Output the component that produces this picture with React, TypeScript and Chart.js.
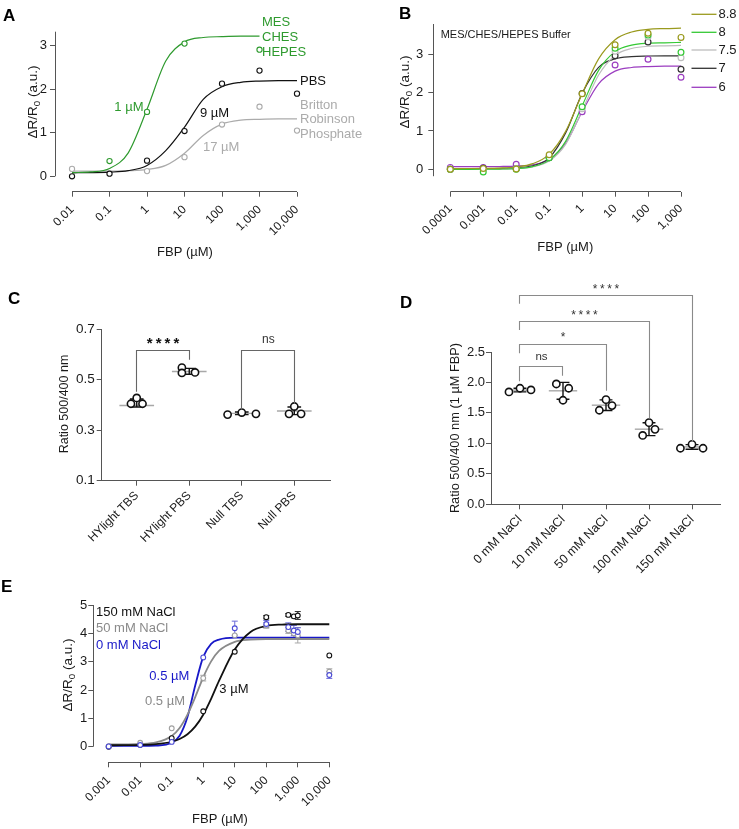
import React, { useEffect, useRef } from 'react';
import { Chart, registerables } from 'chart.js';

Chart.register(...registerables);

const W = 739;
const H = 829;
const FONT = "'Liberation Sans', Arial, Helvetica, sans-serif";
const AX = '#555555';
const INK = '#1a1a1a';

// ---------------- Panel A data ----------------
const A_X = [0.01, 0.1, 1, 10, 100, 1000, 10000];
const A_X_LABELS = ['0.01', '0.1', '1', '10', '100', '1,000', '10,000'];
const A_Y_TICKS = [0, 1, 2, 3];
const A_Y_LABELS = ['0', '1', '2', '3'];
const A_MES = [null, 0.35, 1.48, 3.05, null, 2.91, null];
const A_PBS = [0.0, 0.06, 0.36, 1.04, 2.13, 2.43, 1.9];
const A_BRP = [0.17, null, 0.12, 0.44, 1.19, 1.6, 1.05];
const A_FIT_X = [0.01, 0.0316, 0.1, 0.316, 1, 3.16, 10, 31.6, 100, 316, 1000, 3162, 10000];
const A_MES_FIT = [0.084, 0.1, 0.18, 0.54, 1.54, 2.65, 3.09, 3.19, 3.21, 3.22, 3.22, null, null];
const A_PBS_FIT = [0.081, 0.084, 0.095, 0.13, 0.25, 0.59, 1.13, 1.77, 2.06, 2.16, 2.19, 2.2, 2.2];
const A_BRP_FIT = [0.12, 0.12, 0.12, 0.128, 0.155, 0.25, 0.53, 0.94, 1.2, 1.29, 1.31, 1.32, 1.32];

// ---------------- Panel B data ----------------
const B_X = [0.0001, 0.001, 0.01, 0.1, 1, 10, 100, 1000];
const B_X_LABELS = ['0.0001', '0.001', '0.01', '0.1', '1', '10', '100', '1,000'];
const B_Y_TICKS = [0, 1, 2, 3];
const B_Y_LABELS = ['0', '1', '2', '3'];
const B_PH = ['8.8', '8', '7.5', '7', '6'];
const B_PH88 = [0, 0.02, 0.01, 0.38, 1.97, 3.25, 3.55, 3.44];
const B_PH8 = [0, -0.07, 0.0, 0.3, 1.63, 3.16, 3.5, 3.05];
const B_PH75 = [0, 0.0, 0.02, 0.32, 1.58, 3.08, 3.46, 2.91];
const B_PH7 = [0, 0.03, 0.02, 0.3, 1.98, 2.96, 3.32, 2.61];
const B_PH6 = [0.05, 0.05, 0.13, 0.33, 1.5, 2.72, 2.87, 2.4];
const B_FIT_X = [0.0001, 0.000316, 0.001, 0.00316, 0.01, 0.0316, 0.1, 0.316, 1, 3.16, 10, 31.6, 100, 316, 1000];
const B_FIT88 = [0.02, 0.021, 0.024, 0.033, 0.061, 0.147, 0.39, 0.99, 1.97, 2.88, 3.38, 3.58, 3.65, 3.67, 3.68];
const B_FIT8 = [0, 0, 0.002, 0.006, 0.021, 0.072, 0.24, 0.73, 1.655, 2.58, 3.07, 3.24, 3.29, 3.3, 3.31];
const B_FIT75 = [0, 0, 0.002, 0.005, 0.018, 0.064, 0.215, 0.65, 1.53, 2.46, 2.97, 3.15, 3.21, 3.22, 3.23];
const B_FIT7 = [0.02, 0.02, 0.021, 0.024, 0.036, 0.089, 0.3, 0.95, 1.98, 2.66, 2.88, 2.94, 2.955, 2.96, 2.96];
const B_FIT6 = [0.07, 0.07, 0.07, 0.073, 0.083, 0.119, 0.254, 0.675, 1.5, 2.23, 2.56, 2.655, 2.68, 2.69, 2.69];

// ---------------- Panel C data ----------------
const C_GROUPS = ['HYlight TBS', 'HYlight PBS', 'Null TBS', 'Null PBS'];
const C_Y_TICKS = [0.1, 0.3, 0.5, 0.7];
const C_Y_LABELS = ['0.1', '0.3', '0.5', '0.7'];
const C_VALUES = [
  [0.405, 0.428, 0.405],
  [0.548, 0.527, 0.529],
  [0.362, 0.37, 0.365],
  [0.365, 0.394, 0.365],
];
const C_JITTER = [
  [-0.11, 0, 0.11],
  [-0.14, -0.14, 0.11],
  [-0.27, 0, 0.27],
  [-0.1, 0, 0.13],
];
const C_MEAN = [0.398, 0.533, 0.367, 0.376];
const C_SD_HI = [0.424, 0.545, 0.372, 0.392];
const C_SD_LO = [0.392, 0.522, 0.362, 0.362];

// ---------------- Panel D data ----------------
const D_GROUPS = ['0 mM NaCl', '10 mM NaCl', '50 mM NaCl', '100 mM NaCl', '150 mM NaCl'];
const D_Y_TICKS = [0, 0.5, 1, 1.5, 2, 2.5];
const D_Y_LABELS = ['0.0', '0.5', '1.0', '1.5', '2.0', '2.5'];
const D_VALUES = [
  [1.844, 1.905, 1.877],
  [1.975, 1.905, 1.708],
  [1.718, 1.62, 1.544],
  [1.34, 1.23, 1.13],
  [0.92, 0.985, 0.92],
];
const D_JITTER = [
  [-0.256, 0, 0.256],
  [-0.155, 0.133, 0],
  [0, 0.14, -0.155],
  [0, 0.14, -0.147],
  [-0.27, 0, 0.256],
];
const D_MEAN = [1.875, 1.863, 1.627, 1.233, 0.942];
const D_SD = [0.03, 0.138, 0.087, 0.105, 0.038];
// significance brackets: group index compared with group 0
const D_SIG_TO = [4, 3, 2, 1];
const D_SIG_LABEL = ['****', '****', '*', 'ns'];
const D_SIG_TOP = [3.42, 3.0, 2.63, 2.26];
const D_SIG_LEFT = [3.29, 2.86, 2.48, 2.02];
const D_SIG_RIGHT = [1.03, 1.41, 1.865, 2.11];

// ---------------- Panel E data ----------------
const E_X = [0.001, 0.01, 0.1, 1, 10, 100, 500, 750, 1000, 10000];
const E_X_TICKS = [0.001, 0.01, 0.1, 1, 10, 100, 1000, 10000];
const E_X_LABELS = ['0.001', '0.01', '0.1', '1', '10', '100', '1,000', '10,000'];
const E_Y_TICKS = [0, 1, 2, 3, 4, 5];
const E_Y_LABELS = ['0', '1', '2', '3', '4', '5'];
const E_NACL150 = [0, 0.07, 0.3, 1.25, 3.35, 4.57, 4.65, 4.6, 4.63, 3.22];
const E_NACL50 = [0.02, 0.14, 0.65, 2.42, 3.93, 4.28, 4.1, 4.0, 3.93, 2.65];
const E_NACL0 = [0.01, 0.06, 0.17, 3.15, 4.18, 4.33, 4.22, 4.1, 4.05, 2.53];
const E_SD150 = [0, 0, 0, 0, 0, 0.06, 0.05, 0.05, 0.14, 0];
const E_SD50 = [0, 0, 0, 0.1, 0, 0.1, 0.1, 0.15, 0.27, 0.1];
const E_SD0 = [0, 0, 0, 0, 0.25, 0.12, 0.15, 0.18, 0.15, 0.12];
const E_FIT_X = [0.001, 0.00316, 0.01, 0.0316, 0.1, 0.178, 0.316, 0.562, 1, 1.78, 3.16, 10, 31.6, 100, 316, 1000, 3162, 10000];
const E_FIT150 = [0.051, 0.053, 0.062, 0.089, 0.175, 0.274, 0.442, 0.717, 1.13, 1.69, 2.32, 3.43, 4.05, 4.26, 4.31, 4.32, 4.32, 4.32];
const E_FIT50 = [0.08, 0.084, 0.096, 0.15, 0.38, 0.66, 1.13, 1.76, 2.45, 3.01, 3.38, 3.7, 3.78, 3.8, 3.8, 3.8, 3.8, 3.8];
const E_FIT0 = [0.03, 0.03, 0.03, 0.039, 0.138, 0.39, 1.05, 2.18, 3.17, 3.63, 3.78, 3.85, 3.85, 3.85, 3.85, 3.85, 3.85, 3.85];

// ---------------- colours ----------------
const A_GREEN = '#2e9a2e';
const A_BLACK = '#111111';
const A_GRAY = '#ababab';
const B_COLORS = ['#9a9a1e', '#35c935', '#bdbdbd', '#333333', '#9b3dc0'];
const E_BLACK = '#111111';
const E_GRAY = '#8a8a8a';
const E_BLUE = '#1818c8';

type Area = { l: number; t: number; r: number; b: number };

const pts = (xs: number[], ys: (number | null)[]) =>
  xs.map((x, i) => ({ x, y: ys[i] })).filter((p) => p.y !== null && p.y !== undefined);

function curveDs(xs: number[], ys: (number | null)[], color: string, width = 1.2) {
  return {
    data: pts(xs, ys),
    showLine: true,
    borderColor: color,
    borderWidth: width,
    pointRadius: 0,
    cubicInterpolationMode: 'monotone',
    fill: false,
    order: 2,
    clip: false,
  };
}

function pointDs(data: { x: number; y: number | null }[], color: string, r = 2.6, bw = 1.1) {
  return {
    data,
    showLine: false,
    borderColor: color,
    pointBorderColor: color,
    pointBackgroundColor: '#ffffff',
    pointRadius: r,
    pointBorderWidth: bw,
    order: 1,
    clip: false,
  };
}

function axisBox(area: Area) {
  return { yW: Math.min(45, area.l - 2), xH: Math.min(110, H - area.b - 1) };
}

function scale(
  id: 'x' | 'y',
  type: string,
  min: number,
  max: number,
  vals: number[],
  labels: string[],
  box: number,
  o: { size?: number; pad?: number; border?: boolean } = {}
) {
  const isX = id === 'x';
  return {
    type,
    min,
    max,
    bounds: 'data',
    position: isX ? 'bottom' : 'left',
    offset: false,
    afterFit: (s: any) => {
      if (isX) s.height = box;
      else s.width = box;
    },
    afterBuildTicks: (s: any) => {
      s.ticks = vals.map((v) => ({ value: v }));
    },
    ticks: {
      autoSkip: false,
      maxRotation: isX ? 45 : 0,
      minRotation: isX ? 45 : 0,
      padding: o.pad ?? 3,
      color: INK,
      font: { family: FONT, size: o.size ?? 12 },
      callback: (_v: any, i: number) => labels[i],
    },
    grid: { display: true, drawOnChartArea: false, drawTicks: true, tickLength: 5, color: AX, lineWidth: 1 },
    border: { display: !!o.border, color: AX, width: 1 },
    title: { display: false },
  };
}

function baseOptions(area: Area, x: any, y: any) {
  const { yW, xH } = axisBox(area);
  return {
    responsive: false,
    animation: false,
    events: [],
    layout: { padding: { left: area.l - yW, top: area.t, right: W - area.r, bottom: H - area.b - xH } },
    plugins: { legend: { display: false }, tooltip: { enabled: false }, title: { display: false } },
    scales: { x, y },
  };
}

const al = (v: number) => Math.round(v - 0.5) + 0.5;

function detachedAxes(chart: any, yFrom: number, xFrom: number, xTo: number) {
  const { ctx, chartArea: ca, scales } = chart;
  ctx.save();
  ctx.strokeStyle = AX;
  ctx.lineWidth = 1;
  ctx.beginPath();
  const lx = al(ca.left);
  ctx.moveTo(lx, scales.y.getPixelForValue(yFrom));
  ctx.lineTo(lx, ca.top);
  const by = al(ca.bottom);
  ctx.moveTo(scales.x.getPixelForValue(xFrom), by);
  ctx.lineTo(scales.x.getPixelForValue(xTo), by);
  ctx.stroke();
  ctx.restore();
}

function txt(
  ctx: CanvasRenderingContext2D,
  t: string,
  x: number,
  y: number,
  color = INK,
  size = 13,
  align: CanvasTextAlign = 'left',
  weight = 'normal'
) {
  ctx.save();
  ctx.font = `${weight} ${size}px ${FONT}`;
  ctx.fillStyle = color;
  ctx.textAlign = align;
  ctx.textBaseline = 'middle';
  ctx.fillText(t, x, y);
  ctx.restore();
}

function letter(ctx: CanvasRenderingContext2D, t: string, x: number, baseline: number) {
  ctx.save();
  ctx.font = `bold 17px ${FONT}`;
  ctx.fillStyle = '#000';
  ctx.textAlign = 'left';
  ctx.textBaseline = 'alphabetic';
  ctx.fillText(t, x, baseline);
  ctx.restore();
}

function vTitle(ctx: CanvasRenderingContext2D, cx: number, cy: number, parts: { t: string; sub?: boolean }[], size: number) {
  ctx.save();
  ctx.translate(cx, cy);
  ctx.rotate(-Math.PI / 2);
  ctx.fillStyle = INK;
  ctx.textBaseline = 'middle';
  ctx.textAlign = 'left';
  const fonts = parts.map((p) => `${p.sub ? size * 0.72 : size}px ${FONT}`);
  let total = 0;
  const widths = parts.map((p, i) => {
    ctx.font = fonts[i];
    const w = ctx.measureText(p.t).width;
    total += w;
    return w;
  });
  let x = -total / 2;
  parts.forEach((p, i) => {
    ctx.font = fonts[i];
    ctx.fillText(p.t, x, p.sub ? size * 0.3 : 0);
    x += widths[i];
  });
  ctx.restore();
}

const DR_TITLE = [{ t: 'ΔR/R' }, { t: '0', sub: true }, { t: ' (a.u.)' }];

function stars(ctx: CanvasRenderingContext2D, n: number, cx: number, cy: number, spacing: number, size: number, weight: string, color: string) {
  ctx.save();
  ctx.font = `${weight} ${size}px ${FONT}`;
  ctx.fillStyle = color;
  ctx.textAlign = 'center';
  ctx.textBaseline = 'alphabetic';
  for (let i = 0; i < n; i++) {
    const x = cx + (i - (n - 1) / 2) * spacing;
    ctx.fillText('*', x, cy + size * 0.55);
  }
  ctx.restore();
}

function bracket(chart: any, i0: number, i1: number, top: number, l0: number, l1: number, color: string) {
  const { ctx, scales } = chart;
  const X0 = al(scales.x.getPixelForValue(i0));
  const X1 = al(scales.x.getPixelForValue(i1));
  const T = al(scales.y.getPixelForValue(top));
  ctx.save();
  ctx.strokeStyle = color;
  ctx.lineWidth = 1.1;
  ctx.beginPath();
  ctx.moveTo(X0, scales.y.getPixelForValue(l0));
  ctx.lineTo(X0, T);
  ctx.lineTo(X1, T);
  ctx.lineTo(X1, scales.y.getPixelForValue(l1));
  ctx.stroke();
  ctx.restore();
}

function meanSd(chart: any, means: number[], hi: number[], lo: number[], halfMean: number, halfCap: number) {
  const { ctx, scales } = chart;
  const x = scales.x;
  const y = scales.y;
  ctx.save();
  means.forEach((m, i) => {
    ctx.strokeStyle = '#a8a8a8';
    ctx.lineWidth = 1.4;
    ctx.beginPath();
    ctx.moveTo(x.getPixelForValue(i - halfMean), y.getPixelForValue(m));
    ctx.lineTo(x.getPixelForValue(i + halfMean), y.getPixelForValue(m));
    ctx.stroke();
    ctx.strokeStyle = '#111';
    ctx.lineWidth = 1.4;
    const cx = x.getPixelForValue(i);
    const yh = y.getPixelForValue(hi[i]);
    const yl = y.getPixelForValue(lo[i]);
    ctx.beginPath();
    ctx.moveTo(cx, yh);
    ctx.lineTo(cx, yl);
    ctx.moveTo(x.getPixelForValue(i - halfCap), yh);
    ctx.lineTo(x.getPixelForValue(i + halfCap), yh);
    ctx.moveTo(x.getPixelForValue(i - halfCap), yl);
    ctx.lineTo(x.getPixelForValue(i + halfCap), yl);
    ctx.stroke();
  });
  ctx.restore();
}

// ---------------- builders ----------------
function buildA() {
  const area = { l: 55, t: 31.7, r: 297, b: 191.7 };
  const { yW, xH } = axisBox(area);
  return {
    type: 'scatter',
    data: {
      datasets: [
        curveDs(A_FIT_X, A_MES_FIT, A_GREEN),
        curveDs(A_FIT_X, A_PBS_FIT, A_BLACK),
        curveDs(A_FIT_X, A_BRP_FIT, A_GRAY),
        pointDs(pts(A_X, A_MES), A_GREEN),
        pointDs(pts(A_X, A_PBS), A_BLACK),
        pointDs(pts(A_X, A_BRP), A_GRAY),
      ],
    },
    options: baseOptions(
      area,
      scale('x', 'logarithmic', 0.003516, 10000, A_X, A_X_LABELS, xH, { size: 12, pad: 6 }),
      scale('y', 'linear', -0.354, 3.324, A_Y_TICKS, A_Y_LABELS, yW, { size: 13, pad: 3 })
    ),
    plugins: [
      {
        id: 'panelA',
        afterDraw(chart: any) {
          const ctx = chart.ctx;
          detachedAxes(chart, 0, A_X[0], A_X[A_X.length - 1]);
          txt(ctx, 'MES', 262, 22, A_GREEN);
          txt(ctx, 'CHES', 262, 37.5, A_GREEN);
          txt(ctx, 'HEPES', 262, 52.5, A_GREEN);
          txt(ctx, '1 µM', 143.5, 107, A_GREEN, 13, 'right');
          txt(ctx, 'PBS', 300, 81, '#111');
          txt(ctx, '9 µM', 200, 113, '#111');
          txt(ctx, 'Britton', 300, 105, A_GRAY);
          txt(ctx, 'Robinson', 300, 119.5, A_GRAY);
          txt(ctx, 'Phosphate', 300, 134.5, A_GRAY);
          txt(ctx, '17 µM', 203, 147, A_GRAY);
          txt(ctx, 'FBP (µM)', 185, 252, INK, 13, 'center');
          vTitle(ctx, 33, 102, DR_TITLE, 13.5);
          letter(ctx, 'A', 3, 21);
        },
      },
    ],
  };
}

function buildB() {
  const area = { l: 433.3, t: 24, r: 681, b: 191.7 };
  const { yW, xH } = axisBox(area);
  const series = [B_PH88, B_PH8, B_PH75, B_PH7, B_PH6];
  const fits = [B_FIT88, B_FIT8, B_FIT75, B_FIT7, B_FIT6];
  const ds: any[] = [];
  fits.forEach((f, i) => ds.push(curveDs(B_FIT_X, f, B_COLORS[i], 1.2)));
  series.forEach((s, i) => ds.push(pointDs(pts(B_X, s), B_COLORS[i], 2.9, 1.2)));
  return {
    type: 'scatter',
    data: { datasets: ds },
    options: baseOptions(
      area,
      scale('x', 'logarithmic', 3.05e-5, 1000, B_X, B_X_LABELS, xH, { size: 12, pad: 5 }),
      scale('y', 'linear', -0.584, 3.79, B_Y_TICKS, B_Y_LABELS, yW, { size: 13, pad: 5 })
    ),
    plugins: [
      {
        id: 'panelB',
        afterDraw(chart: any) {
          const ctx = chart.ctx;
          detachedAxes(chart, -0.18, B_X[0], B_X[B_X.length - 1]);
          txt(ctx, 'MES/CHES/HEPES Buffer', 440.7, 34.5, INK, 11);
          const rows = [14.3, 32.3, 50, 68.3, 87.3];
          B_PH.forEach((p, i) => {
            ctx.save();
            ctx.strokeStyle = B_COLORS[i];
            ctx.lineWidth = 1.3;
            ctx.beginPath();
            ctx.moveTo(691.5, rows[i]);
            ctx.lineTo(716.5, rows[i]);
            ctx.stroke();
            ctx.restore();
            txt(ctx, p, 718.5, rows[i], INK, 13);
          });
          txt(ctx, 'FBP (µM)', 565.3, 247, INK, 13, 'center');
          vTitle(ctx, 405, 92, DR_TITLE, 13.5);
          letter(ctx, 'B', 399, 19);
        },
      },
    ],
  };
}

function groupPoints(values: number[][], jitter: number[][]) {
  const out: { x: number; y: number }[] = [];
  values.forEach((g, i) => g.forEach((v, j) => out.push({ x: i + jitter[i][j], y: v })));
  return out;
}

function buildC() {
  const area = { l: 101.7, t: 329.3, r: 330, b: 480.7 };
  const { yW, xH } = axisBox(area);
  return {
    type: 'scatter',
    data: { datasets: [pointDs(groupPoints(C_VALUES, C_JITTER), '#111', 3.6, 1.6)] },
    options: baseOptions(
      area,
      scale('x', 'linear', -0.667, 3.68, [0, 1, 2, 3], C_GROUPS, xH, { size: 12, pad: 3, border: true }),
      scale('y', 'linear', 0.1, 0.7, C_Y_TICKS, C_Y_LABELS, yW, { size: 13.5, pad: 2, border: true })
    ),
    plugins: [
      {
        id: 'panelC',
        beforeDatasetsDraw(chart: any) {
          meanSd(chart, C_MEAN, C_SD_HI, C_SD_LO, 0.33, 0.13);
        },
        afterDraw(chart: any) {
          const ctx = chart.ctx;
          bracket(chart, 0, 1, 0.616, 0.453, 0.579, '#666');
          bracket(chart, 2, 3, 0.616, 0.381, 0.404, '#666');
          stars(ctx, 4, 163, 339.5, 8.9, 15, 'bold', '#111');
          txt(ctx, 'ns', 268.3, 339.5, '#333', 12, 'center');
          vTitle(ctx, 65, 404, [{ t: 'Ratio 500/400 nm' }], 12.5);
          letter(ctx, 'C', 8, 304);
        },
      },
    ],
  };
}

function buildD() {
  const area = { l: 491, t: 352, r: 720.7, b: 504.3 };
  const { yW, xH } = axisBox(area);
  const sd = D_MEAN.map((m, i) => m + D_SD[i]);
  const sdl = D_MEAN.map((m, i) => m - D_SD[i]);
  return {
    type: 'scatter',
    data: { datasets: [pointDs(groupPoints(D_VALUES, D_JITTER), '#111', 3.6, 1.6)] },
    options: baseOptions(
      area,
      scale('x', 'linear', -0.674, 4.667, [0, 1, 2, 3, 4], D_GROUPS, xH, { size: 12.5, pad: 3, border: true }),
      scale('y', 'linear', 0, 2.5, D_Y_TICKS, D_Y_LABELS, yW, { size: 13, pad: 1, border: true })
    ),
    plugins: [
      {
        id: 'panelD',
        beforeDatasetsDraw(chart: any) {
          meanSd(chart, D_MEAN, sd, sdl, 0.33, 0.15);
        },
        afterDraw(chart: any) {
          const ctx = chart.ctx;
          const { x, y } = chart.scales;
          D_SIG_TO.forEach((to, i) => {
            bracket(chart, 0, to, D_SIG_TOP[i], D_SIG_LEFT[i], D_SIG_RIGHT[i], '#8a8a8a');
            const cx = (x.getPixelForValue(0) + x.getPixelForValue(to)) / 2;
            const cy = y.getPixelForValue(D_SIG_TOP[i]) - 9.3;
            if (D_SIG_LABEL[i] === 'ns') txt(ctx, 'ns', cx, cy, '#333', 11.5, 'center');
            else stars(ctx, D_SIG_LABEL[i].length, cx, cy, 7.3, 12, 'normal', '#333');
          });
          vTitle(ctx, 455, 428, [{ t: 'Ratio 500/400 nm (1 µM FBP)' }], 12.8);
          letter(ctx, 'D', 400, 308);
        },
      },
    ],
  };
}

function buildE() {
  const area = { l: 93.3, t: 605, r: 329.3, b: 762.3 };
  const { yW, xH } = axisBox(area);
  return {
    type: 'scatter',
    data: {
      datasets: [
        curveDs(E_FIT_X, E_FIT150, E_BLACK, 1.8),
        curveDs(E_FIT_X, E_FIT50, E_GRAY, 1.8),
        curveDs(E_FIT_X, E_FIT0, E_BLUE, 1.8),
        pointDs(pts(E_X, E_NACL0), '#4a4ad6', 2.4, 1.1),
        pointDs(pts(E_X, E_NACL50), '#a0a0a0', 2.4, 1.1),
        pointDs(pts(E_X, E_NACL150), E_BLACK, 2.4, 1.1),
      ],
    },
    options: baseOptions(
      area,
      scale('x', 'logarithmic', 3.25e-4, 10000, E_X_TICKS, E_X_LABELS, xH, { size: 12, pad: 6 }),
      scale('y', 'linear', -0.55, 5.0, E_Y_TICKS, E_Y_LABELS, yW, { size: 13, pad: 1 })
    ),
    plugins: [
      {
        id: 'panelE',
        beforeDatasetsDraw(chart: any) {
          const { ctx, scales } = chart;
          const sets: [number[], number[], string][] = [
            [E_NACL150, E_SD150, '#333'],
            [E_NACL50, E_SD50, '#a8a8a8'],
            [E_NACL0, E_SD0, '#6a6ad8'],
          ];
          ctx.save();
          ctx.lineWidth = 1;
          sets.forEach(([vals, sds, col]) => {
            ctx.strokeStyle = col;
            vals.forEach((v, i) => {
              if (!sds[i]) return;
              const cx = scales.x.getPixelForValue(E_X[i]);
              const y1 = scales.y.getPixelForValue(v + sds[i]);
              const y2 = scales.y.getPixelForValue(v - sds[i]);
              ctx.beginPath();
              ctx.moveTo(cx, y1);
              ctx.lineTo(cx, y2);
              ctx.moveTo(cx - 3, y1);
              ctx.lineTo(cx + 3, y1);
              ctx.moveTo(cx - 3, y2);
              ctx.lineTo(cx + 3, y2);
              ctx.stroke();
            });
          });
          ctx.restore();
        },
        afterDraw(chart: any) {
          const ctx = chart.ctx;
          detachedAxes(chart, 0, E_X_TICKS[0], E_X_TICKS[E_X_TICKS.length - 1]);
          txt(ctx, '150 mM NaCl', 96, 612.3, E_BLACK);
          txt(ctx, '50 mM NaCl', 96, 628.5, E_GRAY);
          txt(ctx, '0 mM NaCl', 96, 645, E_BLUE);
          txt(ctx, '0.5 µM', 149.3, 676, E_BLUE);
          txt(ctx, '0.5 µM', 145, 701.7, E_GRAY);
          txt(ctx, '3 µM', 219.3, 689.3, E_BLACK);
          txt(ctx, 'FBP (µM)', 220, 819.5, INK, 13, 'center');
          vTitle(ctx, 68, 675, DR_TITLE, 13.5);
          letter(ctx, 'E', 1, 592);
        },
      },
    ],
  };
}

function Panel({ build }: { build: () => any }) {
  const ref = useRef<HTMLCanvasElement>(null);
  useEffect(() => {
    if (!ref.current) return;
    const chart = new Chart(ref.current, build());
    return () => chart.destroy();
  }, [build]);
  return (
    <canvas
      ref={ref}
      width={W}
      height={H}
      style={{ position: 'absolute', left: 0, top: 0, width: W, height: H }}
    />
  );
}

export default function App() {
  return (
    <div style={{ position: 'absolute', left: 0, top: 0, width: W, height: H, background: '#ffffff', overflow: 'hidden' }}>
      <Panel build={buildA} />
      <Panel build={buildB} />
      <Panel build={buildC} />
      <Panel build={buildD} />
      <Panel build={buildE} />
    </div>
  );
}
